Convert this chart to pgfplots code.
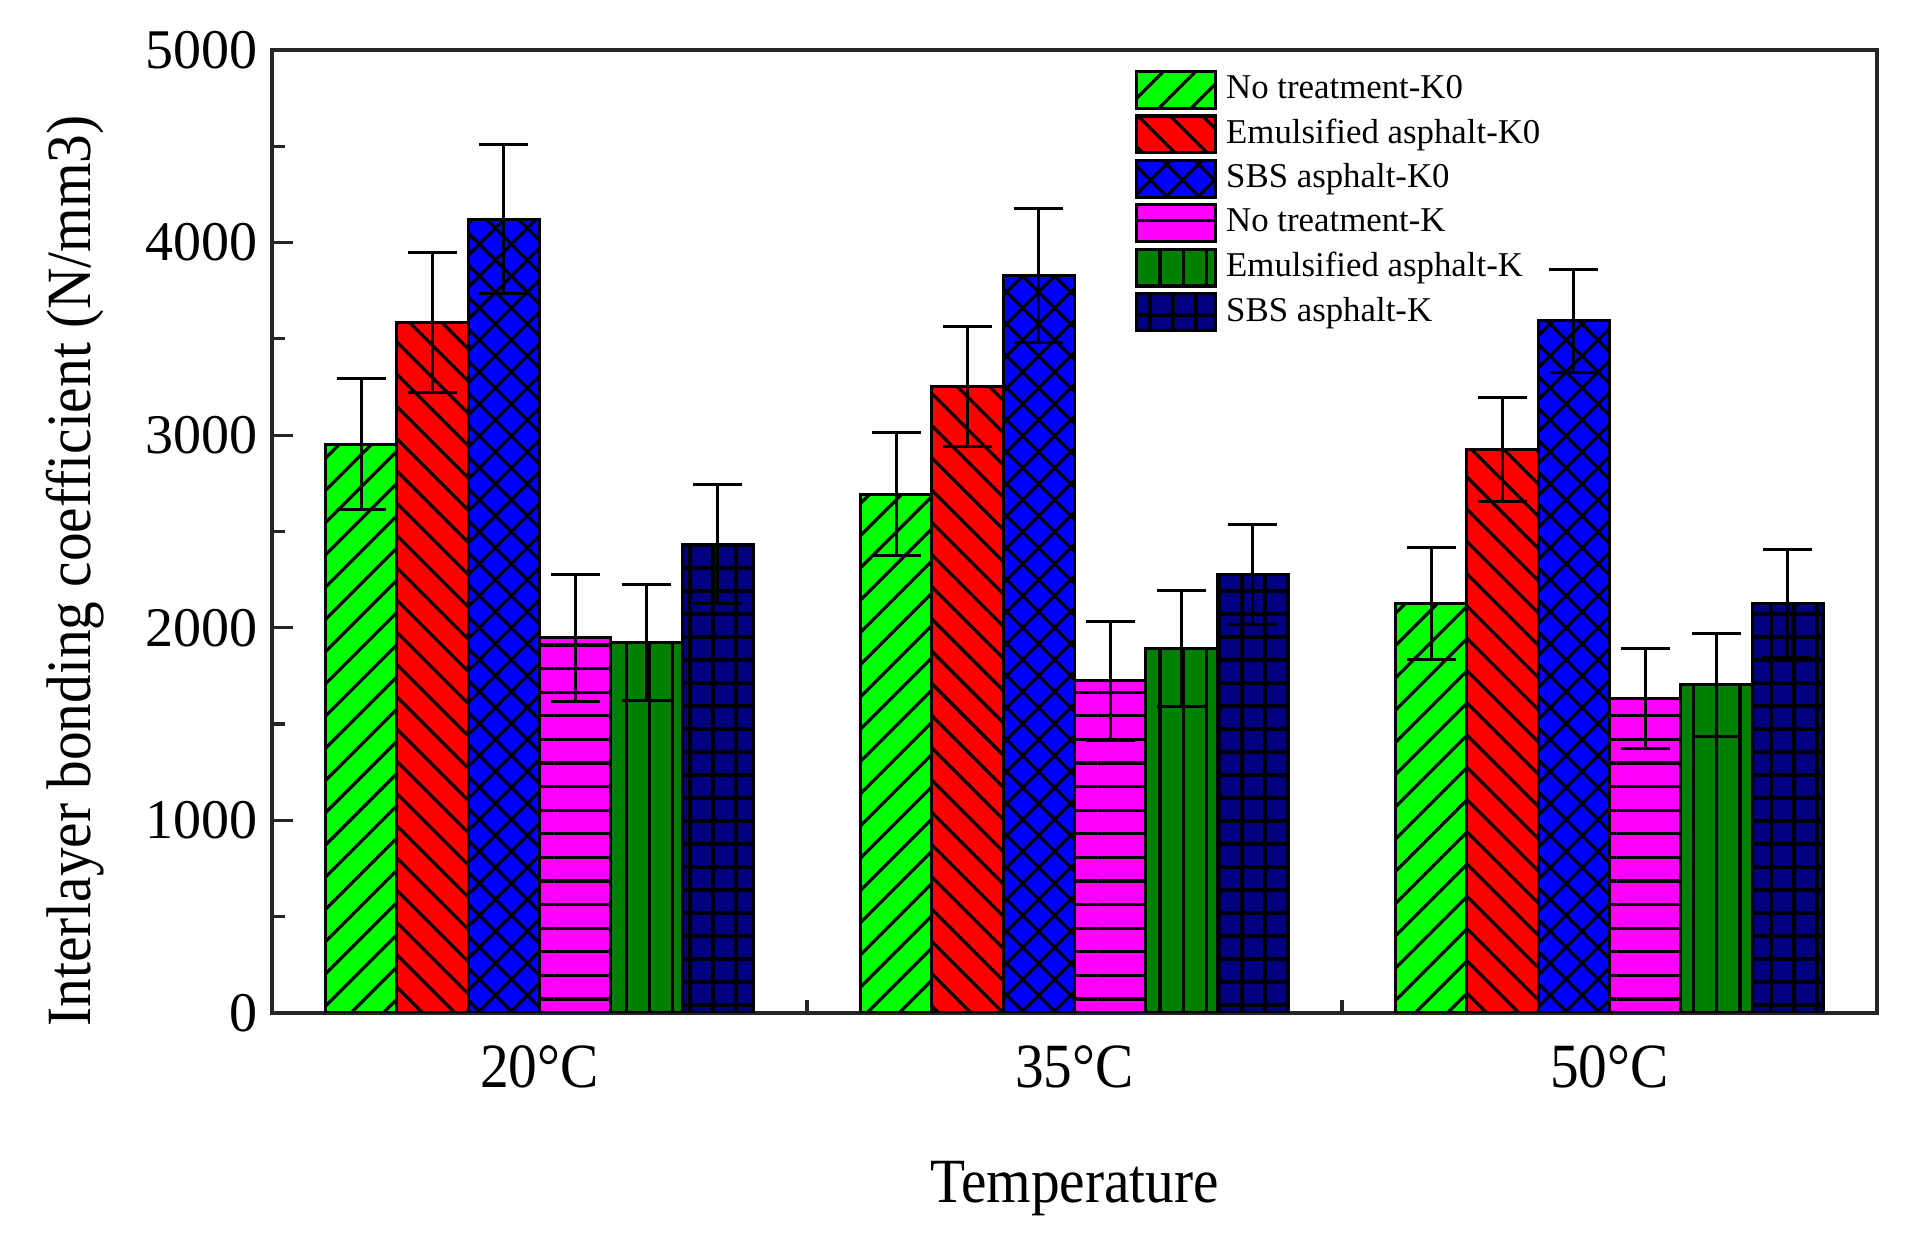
\documentclass[border=0pt]{standalone}
\usepackage{fontspec}
\setmainfont{Liberation Serif}
\newfontfamily\condensed{Liberation Serif}[FakeStretch=0.91]
\usepackage{pgfplots}
\pgfplotsset{compat=1.18}
\usetikzlibrary{patterns.meta}
\definecolor{cGreen}{RGB}{0,255,0}
\definecolor{cRed}{RGB}{255,0,0}
\definecolor{cBlue}{RGB}{0,0,255}
\definecolor{cMag}{RGB}{255,0,255}
\definecolor{cDGreen}{RGB}{0,128,0}
\definecolor{cNavy}{RGB}{0,0,128}
\begin{document}
\begin{tikzpicture}
\begin{axis}[
  name=ax,
  scale only axis,
  width=401.25pt, height=240.75pt,
  xmin=-0.5, xmax=2.5,
  ymin=0, ymax=5000,
  ybar, bar width=0.13333,
  axis line style={line width=0.8pt, black!85},
  xtick={0,1,2},
  xticklabels={20°C,35°C,50°C},
  minor xtick={0.5,1.5},
  major x tick style={draw=none},
  ytick={0,1000,2000,3000,4000,5000},
  minor ytick={500,1500,2500,3500,4500},
  tick align=inside,
  xtick pos=bottom, ytick pos=left,
  major tick length=5.2pt, minor tick length=3.2pt,
  tick style={line width=0.8pt, black!85},
  /pgf/number format/assume math mode=true,
  /pgf/number format/1000 sep={},
  yticklabel style={font=\fontsize{14}{16}\selectfont},
  xticklabel style={font=\condensed\fontsize{15.75}{18}\selectfont, yshift=-4.5pt},
  xlabel={Temperature},
  ylabel={Interlayer bonding coefficient (N/mm3)},
  xlabel style={font=\condensed\fontsize{15.75}{18}\selectfont, at={(axis description cs:0.5,-0.1527)}, anchor=north, inner sep=0pt},
  ylabel style={font=\condensed\fontsize{15.75}{18}\selectfont, at={(axis description cs:-0.1414,0.459)}, anchor=north, inner sep=0pt},
  error bars/y dir=both,
  error bars/y explicit,
  error bars/error bar style={line width=0.75pt, black},
  error bars/error mark options={rotate=90, mark size=6.1pt, line width=0.75pt, black},
  legend style={at={(axis description cs:0.5377,0.9792)}, anchor=north west, draw=none, fill=none,
    font=\fontsize{8.7}{10}\selectfont, inner sep=0pt, outer sep=0pt,
    row sep=1.1pt, column sep=2.25pt, nodes={inner sep=0pt, outer sep=0pt}},
  legend cell align=left,
  legend image code/.code={\draw[#1, line width=0.8pt] (0pt,-4.6pt) rectangle (19.75pt,4.6pt);},
]
\addplot[bar shift=0pt, fill=cGreen, draw=black, line width=0.75pt,
  postaction={pattern={Lines[angle=45,distance=5.7pt,line width=0.8pt]}, pattern color=black}]
  coordinates {(-0.33333,2954) +- (0,340) (0.66667,2693) +- (0,320) (1.66667,2127) +- (0,290)};
\addplot[bar shift=0pt, fill=cRed, draw=black, line width=0.75pt,
  postaction={pattern={Lines[angle=-45,distance=5.7pt,line width=0.8pt]}, pattern color=black}]
  coordinates {(-0.2,3586) +- (0,365) (0.8,3252) +- (0,313) (1.8,2927) +- (0,270)};
\addplot[bar shift=0pt, fill=cBlue, draw=black, line width=0.75pt,
  postaction={pattern={Hatch[angle=45,distance=5.65pt,line width=0.8pt]}, pattern color=black}]
  coordinates {(-0.06667,4122) +- (0,385) (0.93333,3827) +- (0,348) (1.93333,3593) +- (0,268)};
\addplot[bar shift=0pt, fill=cMag, draw=black, line width=0.75pt,
  postaction={pattern={Lines[angle=0,distance=5.9pt,line width=0.8pt]}, pattern color=black}]
  coordinates {(0.06667,1947) +- (0,328) (1.06667,1724) +- (0,308) (2.06667,1634) +- (0,260)};
\addplot[bar shift=0pt, fill=cDGreen, draw=black, line width=0.75pt,
  postaction={pattern={Lines[angle=90,distance=5.8pt,line width=0.8pt]}, pattern color=black}]
  coordinates {(0.2,1923) +- (0,303) (1.2,1893) +- (0,300) (2.2,1703) +- (0,265)};
\addplot[bar shift=0pt, fill=cNavy, draw=black, line width=0.75pt,
  postaction={pattern={Hatch[angle=0,distance=5.75pt,line width=0.8pt]}, pattern color=black}]
  coordinates {(0.33333,2435) +- (0,310) (1.33333,2278) +- (0,260) (2.33333,2127) +- (0,280)};
\legend{No treatment-K0, Emulsified asphalt-K0, SBS asphalt-K0, No treatment-K, Emulsified asphalt-K, SBS asphalt-K}
\end{axis}
\pgfresetboundingbox
\path[use as bounding box] ([shift={(-68pt,-55.5pt)}]ax.south west) rectangle ([shift={(9.25pt,12.5pt)}]ax.north east);
\end{tikzpicture}
\end{document}
